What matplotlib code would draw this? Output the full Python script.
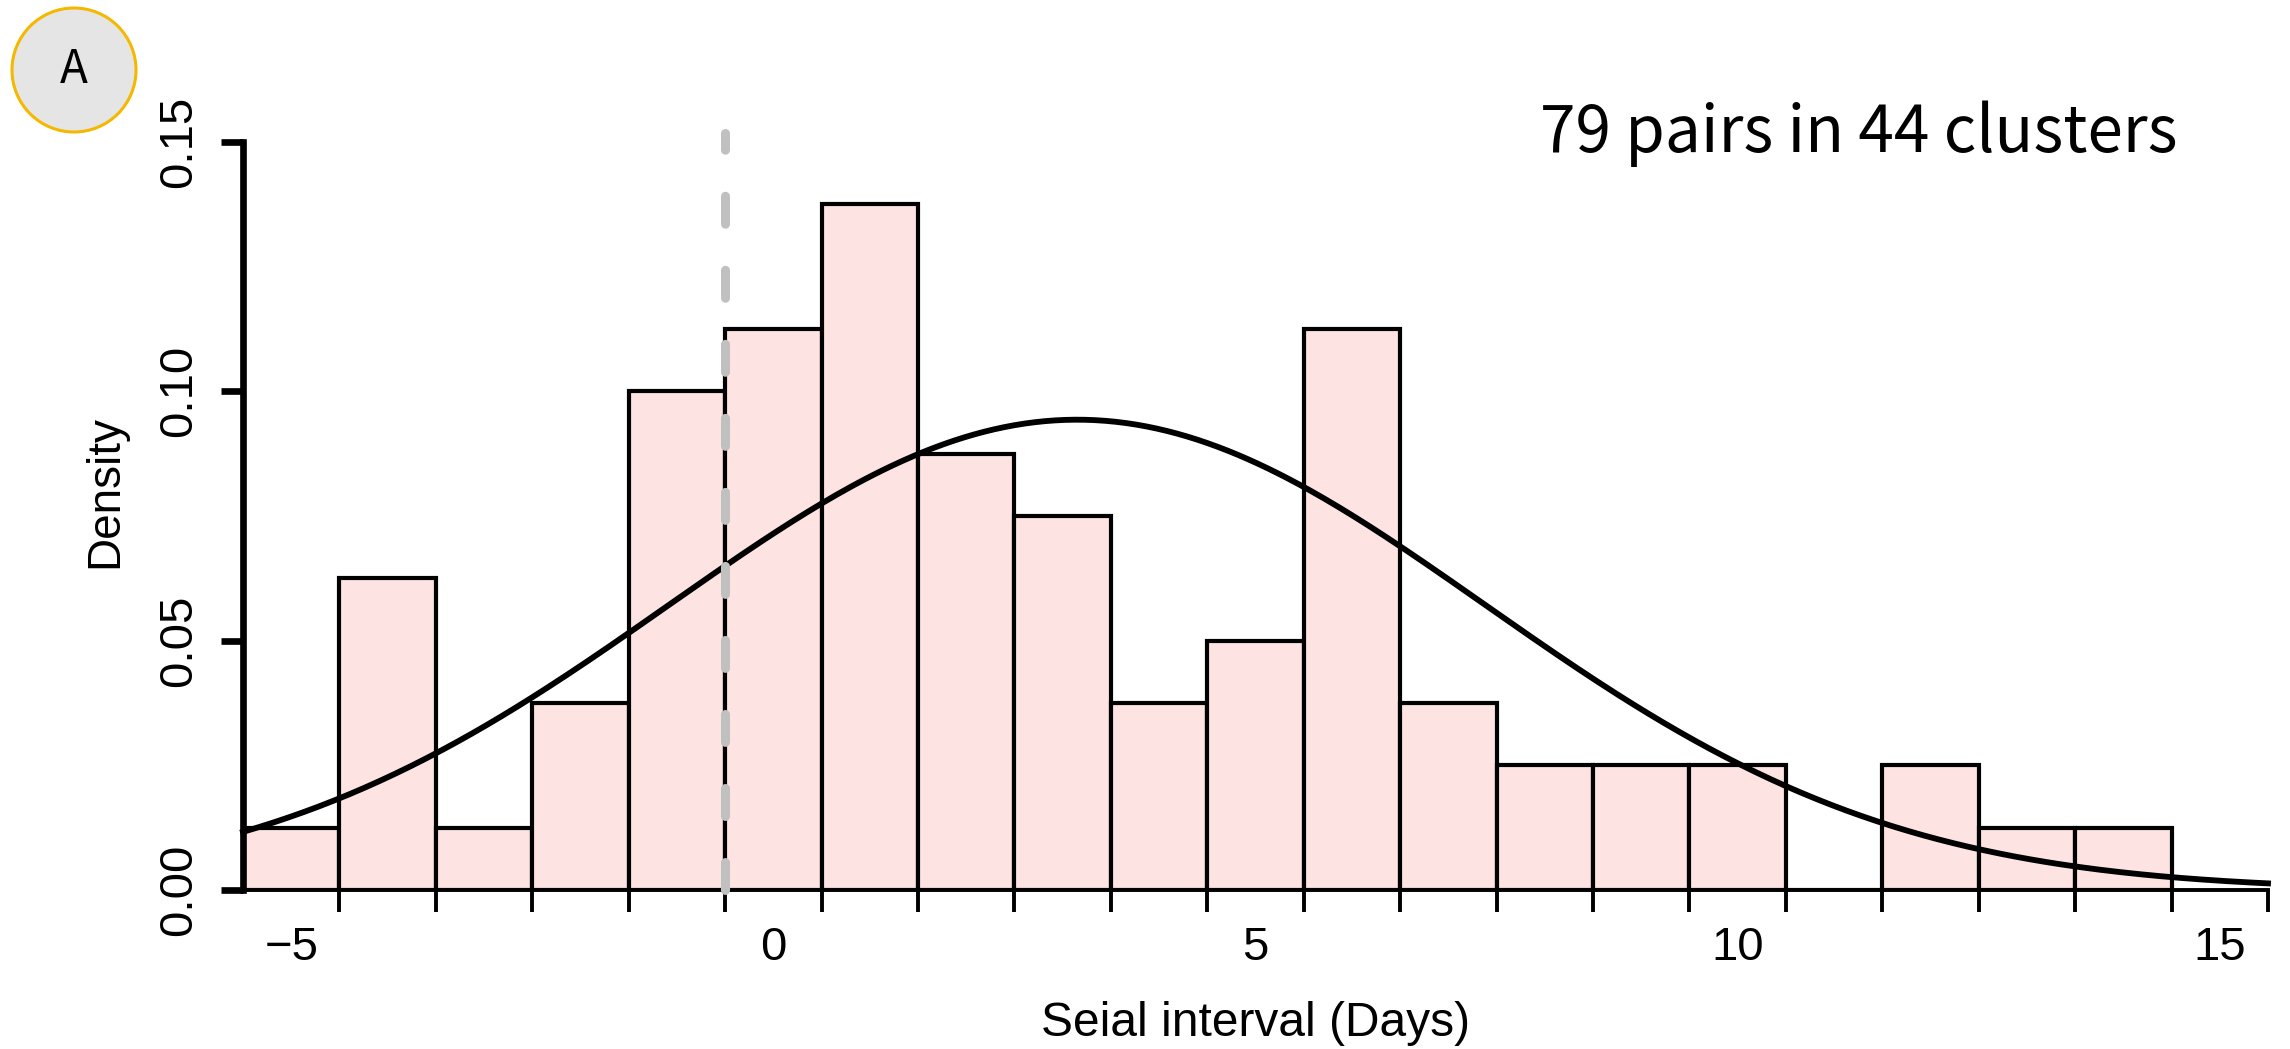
import numpy as np
import matplotlib
matplotlib.use("Agg")
import matplotlib.pyplot as plt
from matplotlib.patches import Circle

# ---- data ----
bin_edges = [-5.5, -4.5, -3.5, -2.5, -1.5, -0.5, 0.5, 1.5, 2.5, 3.5, 4.5,
             5.5, 6.5, 7.5, 8.5, 9.5, 10.5, 11.5, 12.5, 13.5, 14.5]
densities = [0.0125, 0.0625, 0.0125, 0.0375, 0.1000, 0.1125, 0.1375, 0.0875,
             0.0750, 0.0375, 0.0500, 0.1125, 0.0375, 0.0250, 0.0250, 0.0250,
             0.0000, 0.0250, 0.0125, 0.0125]
fit_mean = 3.15
fit_sd = 4.23
cutoff_x = -0.5
xtick_labels = [-5, 0, 5, 10, 15]
ytick_values = [0.00, 0.05, 0.10, 0.15]
annotation = "79 pairs in 44 clusters"
panel_label = "A"

plt.rcParams['font.family'] = ['Liberation Sans', 'DejaVu Sans']

W, H = 2290, 1049
fig = plt.figure(figsize=(W / 100, H / 100), dpi=100)
ax = fig.add_axes([243 / W, 159 / H, (2268 - 243) / W, (0.16 / 0.15 * 748) / H])

edges = np.array(bin_edges)
ax.bar(edges[:-1], densities, width=np.diff(edges), align='edge',
       color='#fde3e1', edgecolor='black', linewidth=3.0, zorder=2)

xs = np.linspace(-5.5, 15.5, 400)
ys = np.exp(-0.5 * ((xs - fit_mean) / fit_sd) ** 2) / (fit_sd * np.sqrt(2 * np.pi))
ax.plot(xs, ys, color='black', linewidth=4.2, zorder=4, clip_on=False)

ax.plot([cutoff_x, cutoff_x], [0, 0.1518], color='#c0c0c0', linewidth=6.5,
        linestyle=(0, (3.1, 5.1)), dash_capstyle='round', zorder=5, clip_on=False)

ax.set_xlim(-5.5, 15.5)
ax.set_ylim(0, 0.16)

for s in ['top', 'right']:
    ax.spines[s].set_visible(False)
ax.spines['left'].set_bounds(0, 0.15)
ax.spines['left'].set_linewidth(4.8)
ax.spines['bottom'].set_linewidth(2.8)
ax.spines['bottom'].set_bounds(-5.5, 15.5)

# x ticks at bin edges (no labels), labels at integer positions
major = np.arange(-4.5, 16.0, 1.0)
ax.set_xticks(major)
ax.set_xticklabels([])
ax.tick_params(axis='x', which='major', length=16, width=2.8, direction='out')
ax.set_xticks(xtick_labels, minor=True)
ax.set_xticklabels([f"{v}".replace('-', '\u2212') for v in xtick_labels], minor=True)
ax.tick_params(axis='x', which='minor', length=0, labelsize=34, pad=26)

ax.set_yticks(ytick_values)
ax.set_yticklabels([f"{v:.2f}" for v in ytick_values], rotation=90, va='center')
ax.tick_params(axis='y', length=16, width=4.8, labelsize=34, pad=14)

ax.set_xlabel("Seial interval (Days)", fontsize=34.5, labelpad=22)
ax.set_ylabel("Density", fontsize=33, labelpad=22)

fig.text(2177 / W, 1 - 152 / H, annotation, fontsize=46, ha='right', va='baseline',
         family=['Noto Sans CJK KR', 'DejaVu Sans'])

circ = Circle((0.74, (H - 70) / 100), 0.62, transform=fig.dpi_scale_trans,
              facecolor='#e5e5e5', edgecolor='#f5b800', linewidth=2.2)
fig.patches.append(circ)
fig.text(74 / W, 1 - 70 / H, panel_label, fontsize=33, ha='center', va='center',
         family=['Noto Sans CJK KR', 'DejaVu Sans'])

fig.savefig("out.png", dpi=100)
